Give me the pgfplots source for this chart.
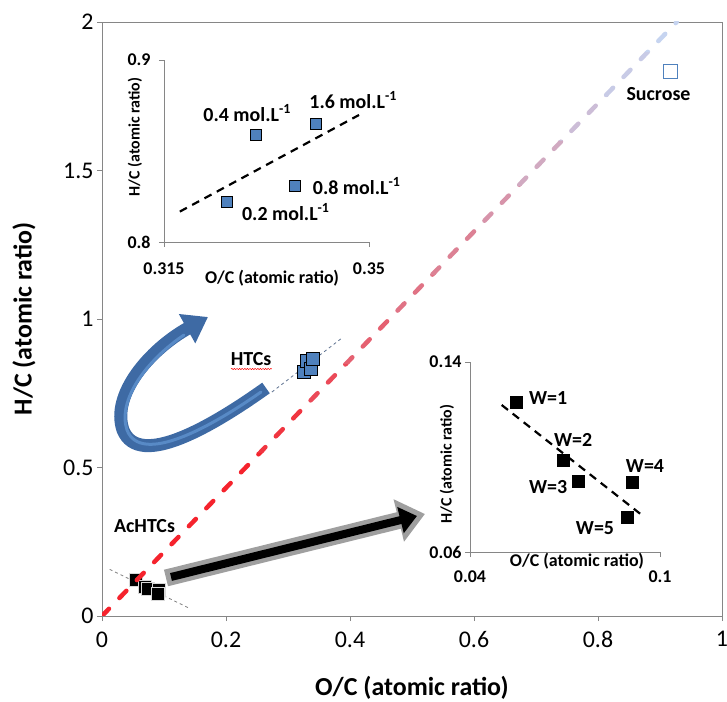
\documentclass[border=0pt]{standalone}
\usepackage{pgfplots}
\pgfplotsset{compat=1.18}
\usepackage{fontspec}
\setmainfont{Carlito}
\usetikzlibrary{arrows.meta,decorations.pathmorphing}

\definecolor{axisgray}{RGB}{134,134,134}
\definecolor{htcblue}{RGB}{79,129,189}
\definecolor{arrowblue}{RGB}{62,106,164}
\definecolor{arrowlight}{RGB}{88,138,198}
\definecolor{redline}{RGB}{245,35,45}
\definecolor{lightline}{RGB}{198,212,240}
\definecolor{trendblue}{RGB}{95,115,145}

\newcommand{\molL}{mol.L\textsuperscript{-1}}

\pgfplotsset{mainframe/.style={
    at={(0,0)}, anchor=south west,
    width=620bp, height=594bp, scale only axis,
    xmin=0, xmax=1, ymin=0, ymax=2}}

\begin{document}
\begin{tikzpicture}
\path[use as bounding box] (-102bp,-86bp) rectangle (625bp,616bp);

\begin{axis}[
    mainframe,
    xtick={0,0.2,0.4,0.6,0.8,1}, ytick={0,0.5,1,1.5,2},
    xtick pos=bottom, ytick pos=left,
    tick align=outside, major tick length=5bp,
    axis line style={draw=axisgray, line width=0.9bp},
    tick style={draw=axisgray, line width=0.9bp},
    /pgf/number format/assume math mode=true,
    tick label style={font=\fontsize{24}{24}\selectfont},
    xticklabel style={yshift=-7bp},
    xlabel={\bfseries O/C (atomic ratio)},
    ylabel={\bfseries H/C (atomic ratio)},
    label style={font=\fontsize{26}{26}\selectfont},
    xlabel style={at={(axis description cs:0.5,-0.121)}, anchor=center},
    ylabel style={at={(axis description cs:-0.1258,0.5)}, anchor=center},
  ]
  % trend lines
  \addplot[draw=trendblue, line width=0.8bp, dash pattern=on 3bp off 3bp] coordinates {(0.274,0.754) (0.387,0.936)};
  \addplot[draw=gray, line width=0.8bp, dash pattern=on 3bp off 3bp] coordinates {(0.0124,0.157) (0.140,0.027)};
  % HTCs
  \addplot[only marks, mark=square*, mark size=6.5bp, mark options={fill=htcblue, draw=black, line width=0.9bp}] coordinates {
    (0.3258,0.822) (0.3307,0.859) (0.3374,0.831) (0.3409,0.865)
  };
  % AcHTCs
  \addplot[only marks, mark=square*, mark size=6.5bp, mark options={fill=black, draw=white!85!black, line width=0.6bp}] coordinates {
    (0.0546,0.1229) (0.0695,0.0987) (0.0741,0.0900) (0.0913,0.0892) (0.0897,0.0746)
  };
  % sucrose
  \addplot[only marks, mark=square, mark size=7bp, mark options={draw=htcblue, fill=white, line width=0.9bp}] coordinates {(0.917,1.833)};
\end{axis}

% van Krevelen diagonal: same line drawn in horizontal bands, red fading to light blue upwards
\foreach \ylo/\yhi/\t in {-10/163.35/100, 163.35/207.9/90, 207.9/252.45/78, 252.45/297/65,
    297/341.55/55, 341.55/386.1/47, 386.1/430.65/36, 430.65/475.2/24,
    475.2/519.75/13, 519.75/564.3/5, 564.3/620/0}{
  \begin{scope}
    \clip (-10bp,\ylo bp) rectangle (630bp,\yhi bp);
    \begin{axis}[mainframe, hide axis]
      \addplot[draw=redline!\t!lightline, line width=4.5bp, line cap=round, dash pattern=on 10bp off 15bp] coordinates {(0,0) (0.927,2)};
    \end{axis}
  \end{scope}
}

% annotations, in picture pixels of the reference
\begin{scope}[shift={(-103bp,616bp)}, x=1bp, y=-1bp]
  \node[font=\bfseries\fontsize{20}{20}\selectfont] at (252,359.5) {HTCs};
  \draw[red, line width=0.5bp, decorate, decoration={snake, amplitude=0.6bp, segment length=2.6bp}] (232,369) -- (273,369);
  \node[font=\bfseries\fontsize{20}{20}\selectfont] at (145.5,526) {AcHTCs};
  \node[font=\bfseries\fontsize{20}{20}\selectfont] at (659.5,94.3) {Sucrose};
  % blue curved arrow
  \draw[arrowblue, line width=13bp, -{Triangle[width=32bp,length=24bp]}]
    (267,388) .. controls (215,425) and (140,470) .. (124,430) .. controls (112,395) and (150,350) .. (209,317);
  \draw[arrowlight, line width=3bp, line cap=round]
    (262,392) .. controls (212,427) and (142,466) .. (128,430) .. controls (118,400) and (148,360) .. (185,335);
  % black straight arrow
  \draw[gray!75, line width=17bp, -{Triangle[width=42bp,length=27bp]}] (167,578) -- (426,514);
  \draw[black, line width=8bp, -{Triangle[width=26bp,length=17bp]}] (172,577) -- (418,516);
\end{scope}

% inset: HTCs
\begin{axis}[
    at={(62bp,374bp)}, anchor=south west,
    width=205bp, height=182bp, scale only axis,
    xmin=0.315, xmax=0.35, ymin=0.8, ymax=0.9,
    axis lines=left, axis line style={-, draw=axisgray, line width=0.9bp},
    xtick={0.315,0.35}, xticklabels={0.315,0.35},
    ytick={0.8,0.9}, yticklabels={0.8,0.9},
    tick align=outside, major tick length=5bp,
    tick style={draw=axisgray, line width=0.9bp},
    tick label style={font=\bfseries\fontsize{18}{18}\selectfont},
    xticklabel style={yshift=-12bp},
    yticklabel style={xshift=-5bp},
    xlabel={\bfseries O/C (atomic ratio)},
    ylabel={\bfseries H/C (atomic ratio)},
    xlabel style={font=\fontsize{18}{18}\selectfont, at={(axis description cs:0.527,-0.198)}, anchor=center},
    ylabel style={font=\fontsize{16}{16}\selectfont, at={(axis description cs:-0.1415,0.577)}, anchor=center},
    clip=false,
  ]
  \addplot[draw=black, line width=2.2bp, dash pattern=on 8bp off 6bp] coordinates {(0.3177,0.8167) (0.3483,0.8698)};
  \addplot[only marks, mark=square*, mark size=5.5bp, mark options={fill=htcblue, draw=black, line width=0.9bp}] coordinates {
    (0.3258,0.822) (0.3307,0.859) (0.3374,0.831) (0.3409,0.865)
  };
  \begin{scope}[every node/.style={font=\bfseries\fontsize{20}{20}\selectfont, anchor=west, inner sep=0pt}]
    \node at (axis cs:0.3217,0.8709) {0.4 \molL};
    \node at (axis cs:0.3398,0.8780) {1.6 \molL};
    \node at (axis cs:0.3404,0.8308) {0.8 \molL};
    \node at (axis cs:0.3283,0.8165) {0.2 \molL};
  \end{scope}
\end{axis}

% inset: AcHTCs
\begin{axis}[
    at={(368bp,64bp)}, anchor=south west,
    width=190bp, height=190bp, scale only axis,
    xmin=0.04, xmax=0.1, ymin=0.06, ymax=0.14,
    axis lines=left, axis line style={-, draw=axisgray, line width=0.9bp},
    xtick={0.04,0.1}, xticklabels={0.04,0.1},
    ytick={0.06,0.14}, yticklabels={0.06,0.14},
    tick align=outside, major tick length=5bp,
    tick style={draw=axisgray, line width=0.9bp},
    tick label style={font=\bfseries\fontsize{18}{18}\selectfont},
    xticklabel style={yshift=-10bp},
    xlabel={\bfseries O/C (atomic ratio)},
    ylabel={\bfseries H/C (atomic ratio)},
    xlabel style={font=\fontsize{18}{18}\selectfont, at={(axis description cs:0.563,-0.051)}, anchor=center},
    ylabel style={font=\fontsize{16}{16}\selectfont, at={(axis description cs:-0.121,0.463)}, anchor=center},
    clip=false,
  ]
  \addplot[draw=black, line width=2.2bp, dash pattern=on 8bp off 6bp] coordinates {(0.050,0.1219) (0.0946,0.0752)};
  \addplot[only marks, mark=square*, mark size=6bp, mark options={fill=black, draw=black}] coordinates {
    (0.0546,0.1229) (0.0695,0.0987) (0.0741,0.0900) (0.0913,0.0892) (0.0897,0.0746)
  };
  \begin{scope}[every node/.style={font=\bfseries\fontsize{20}{20}\selectfont, anchor=west, inner sep=0pt}]
    \node at (axis cs:0.0586,0.1247) {W=1};
    \node at (axis cs:0.0665,0.1072) {W=2};
    \node at (axis cs:0.0586,0.0875) {W=3};
    \node at (axis cs:0.0892,0.0962) {W=4};
    \node at (axis cs:0.0734,0.0700) {W=5};
  \end{scope}
\end{axis}
\end{tikzpicture}
\end{document}
